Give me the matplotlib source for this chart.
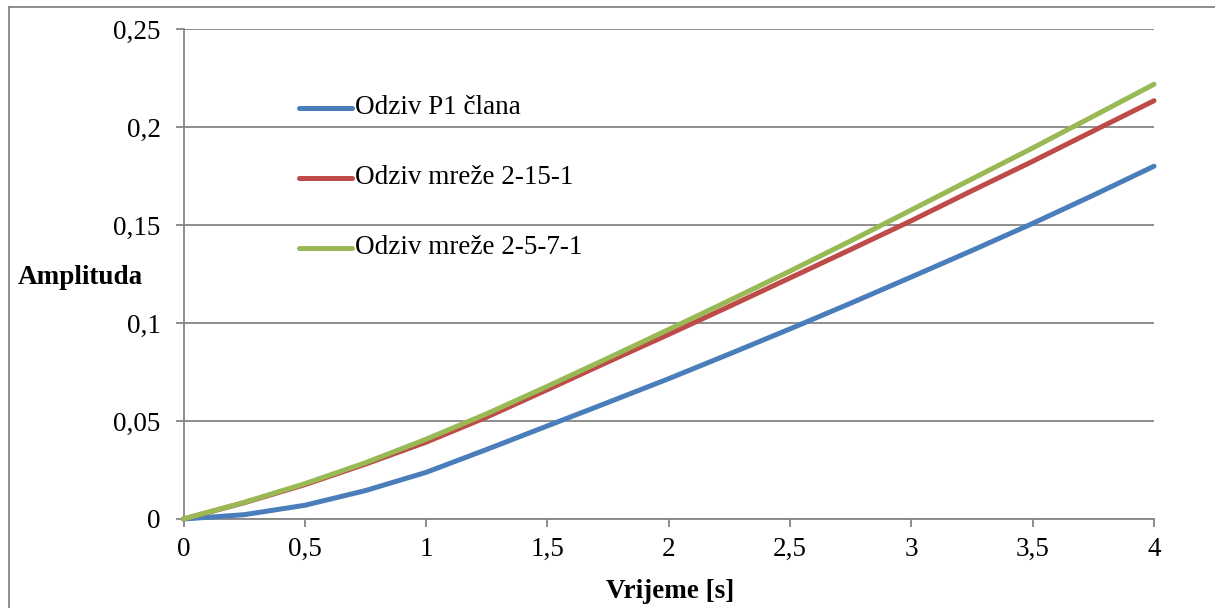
import matplotlib
matplotlib.use("Agg")
import matplotlib.pyplot as plt
from matplotlib.lines import Line2D

plt.rcParams['font.family'] = ['Liberation Serif', 'DejaVu Serif']

t = [0, 0.25, 0.5, 0.75, 1, 1.25, 1.5, 1.75, 2, 2.25, 2.5, 2.75, 3, 3.25, 3.5, 3.75, 4]
p1 = [0, 0.0022, 0.0070, 0.0145, 0.0238, 0.0355, 0.0475, 0.0595, 0.0716, 0.0842, 0.0970,
      0.1101, 0.1235, 0.1370, 0.1508, 0.1652, 0.1800]
net_2_15_1 = [0, 0.0083, 0.0175, 0.0280, 0.0392, 0.0520, 0.0660, 0.0802, 0.0942, 0.1085, 0.1230,
              0.1375, 0.1522, 0.1675, 0.1825, 0.1980, 0.2134]
net_2_5_7_1 = [0, 0.0085, 0.0180, 0.0287, 0.0407, 0.0537, 0.0677, 0.0821, 0.0967, 0.1115, 0.1265,
               0.1419, 0.1577, 0.1735, 0.1893, 0.2055, 0.2218]
labels = ['Odziv P1 člana', 'Odziv mreže 2-15-1', 'Odziv mreže 2-5-7-1']
x_ticks = [0, 0.5, 1, 1.5, 2, 2.5, 3, 3.5, 4]
x_ticklabels = ['0', '0,5', '1', '1,5', '2', '2,5', '3', '3,5', '4']
y_ticks = [0, 0.05, 0.1, 0.15, 0.2, 0.25]
y_ticklabels = ['0', '0,05', '0,1', '0,15', '0,2', '0,25']

W, H = 1215, 608
FS = 19.5
fig = plt.figure(figsize=(W / 100, H / 100), dpi=100)
ax = fig.add_axes([183.5 / W, (H - 519) / H, (1154 - 183.5) / W, (519 - 29) / H])

grid_col = '#868686'
colors = ['#4A7EBB', '#BE4B48', '#98B954']
for y, c, lab in zip([p1, net_2_15_1, net_2_5_7_1], colors, labels):
    ax.plot(t, y, color=c, lw=3.6, solid_capstyle='round', solid_joinstyle='round',
            label=lab, zorder=3, clip_on=False)

ax.set_xlim(0, 4)
ax.set_ylim(0, 0.25)
ax.set_xticks(x_ticks)
ax.set_xticklabels(x_ticklabels)
ax.set_yticks(y_ticks)
ax.set_yticklabels(y_ticklabels)
ax.yaxis.grid(True, color=grid_col, lw=1.3)
ax.set_axisbelow(True)
for s in ['top', 'right']:
    ax.spines[s].set_visible(False)
for s in ['left', 'bottom']:
    ax.spines[s].set_color(grid_col)
    ax.spines[s].set_linewidth(1.3)
ax.tick_params(axis='both', direction='out', length=5.8, width=1.3, color=grid_col,
               labelsize=FS, labelcolor='black')
ax.tick_params(axis='x', pad=7)
ax.tick_params(axis='y', pad=10.5)

fig.text(18 / W, 1 - 277 / H, 'Amplituda', fontsize=FS, fontweight='bold',
         ha='left', va='center')
fig.text(670 / W, 1 - 591 / H, 'Vrijeme [s]', fontsize=FS, fontweight='bold',
         ha='center', va='center')

# legend drawn manually in figure coordinates
leg_rows = [108, 178, 247.5]
for c, lab, yy in zip(colors, labels, leg_rows):
    fig.add_artist(Line2D([299 / W, 352 / W], [1 - yy / H, 1 - yy / H], color=c, lw=3.6,
                          solid_capstyle='round', transform=fig.transFigure))
    fig.text(355 / W, 1 - yy / H, lab, fontsize=FS, ha='left', va='center')

# outer border (top and left visible)
fig.add_artist(Line2D([8.5 / W, 1.0], [1 - 7 / H, 1 - 7 / H], color=grid_col, lw=1.3,
                      transform=fig.transFigure))
fig.add_artist(Line2D([8.5 / W, 8.5 / W], [0, 1 - 7 / H], color=grid_col, lw=1.3,
                      transform=fig.transFigure))

fig.savefig('out.png', dpi=100)
